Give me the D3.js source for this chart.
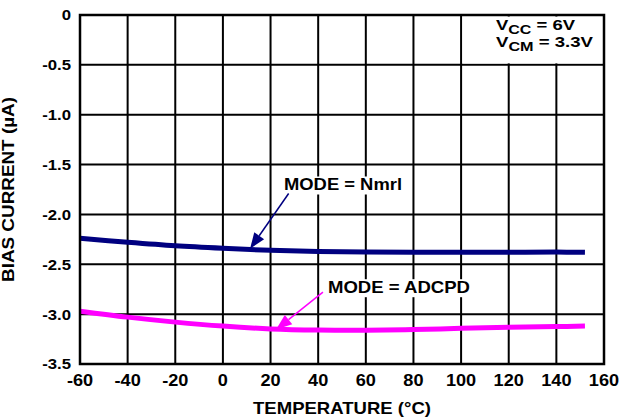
<!DOCTYPE html>
<html><head><meta charset="utf-8">
<script src="https://cdn.jsdelivr.net/npm/d3@7"></script>
<style>
html,body{margin:0;padding:0;background:#fff;}
text{font-family:"Liberation Sans",Arial,sans-serif;font-weight:bold;fill:#000;}
</style></head>
<body>
<script>
const temps = [-60,-40,-20,0,20,40,60,80,100,120,140,152];
const nmrl  = [-2.24,-2.28,-2.315,-2.34,-2.36,-2.372,-2.378,-2.38,-2.38,-2.38,-2.378,-2.38];
const adcpd = [-2.97,-3.03,-3.08,-3.12,-3.148,-3.16,-3.162,-3.155,-3.142,-3.132,-3.125,-3.12];
const xTicks = [-60,-40,-20,0,20,40,60,80,100,120,140,160];
const yTicks = [0,-0.5,-1.0,-1.5,-2.0,-2.5,-3.0,-3.5];
const yTickLabels = ["0","-0.5","-1.0","-1.5","-2.0","-2.5","-3.0","-3.5"];
const xTitle = "TEMPERATURE (°C)";
const yTitle = "BIAS CURRENT (µA)";
const labels = [
  {text:"MODE = Nmrl", x0:-60+(284-80)/524*220, v:-1.76, tipT:11.4, tipV:-2.345, fromT:27.6, fromV:-1.79, color:"#000080", tl:118},
  {text:"MODE = ADCPD", x0:-60+(328-80)/524*220, v:-2.79, tipT:22.3, tipV:-3.155, fromT:42, fromV:-2.78, color:"#ff00ff", tl:142}
];

const W=620,H=419, m={l:80,t:15,r:16,b:55};
const w=W-m.l-m.r, h=H-m.t-m.b;
const svg=d3.select("body").append("svg").attr("width",W).attr("height",H);
const x=d3.scaleLinear().domain([-60,160]).range([m.l,m.l+w]);
const y=d3.scaleLinear().domain([0,-3.5]).range([m.t,m.t+h]);

// grid
const g=svg.append("g");
g.selectAll(".vg").data(xTicks).join("line").attr("x1",d=>x(d)).attr("x2",d=>x(d))
 .attr("y1",y(0)).attr("y2",y(-3.5)).attr("stroke","#000").attr("stroke-width",2);
g.selectAll(".hg").data(yTicks).join("line").attr("y1",d=>y(d)).attr("y2",d=>y(d))
 .attr("x1",x(-60)).attr("x2",x(160)).attr("stroke","#000").attr("stroke-width",2);

// white box for conditions
svg.append("rect").attr("x",x(100)+1.5).attr("y",y(0)+1.5).attr("width",x(160)-x(100)-3).attr("height",y(-0.5)-y(0)-3).attr("fill","#fff");

// tick labels
svg.append("g").selectAll("text").data(xTicks).join("text")
 .attr("x",d=>x(d)).attr("y",386).attr("text-anchor","middle").attr("font-size",16.5)
 .attr("transform",d=>`translate(${x(d)},0) scale(1.1,1) translate(${-x(d)},0)`).text(d=>d);
svg.append("g").selectAll("text").data(yTicks).join("text")
 .attr("x",71).attr("y",d=>y(d)+5.5).attr("text-anchor","end").attr("font-size",15.5)
 .attr("transform","translate(71,0) scale(1.08,1) translate(-71,0)")
 .text((d,i)=>yTickLabels[i]);

// titles
svg.append("text").attr("x",m.l+w/2).attr("y",414).attr("text-anchor","middle").attr("font-size",16.5)
 .attr("textLength",178).attr("lengthAdjust","spacingAndGlyphs").text(xTitle);
svg.append("text").attr("transform",`translate(13.5,${m.t+h/2}) rotate(-90)`).attr("text-anchor","middle")
 .attr("font-size",16.5).attr("textLength",185).attr("lengthAdjust","spacingAndGlyphs").text(yTitle);

// conditions text
const c=svg.append("g").attr("font-size",15.5);
const t1=c.append("text").attr("x",496).attr("y",30).attr("textLength",79).attr("lengthAdjust","spacingAndGlyphs");
t1.append("tspan").text("V");
t1.append("tspan").attr("font-size",13.5).attr("dy",4).text("CC");
t1.append("tspan").attr("dy",-4).text(" = 6V");
const t2=c.append("text").attr("x",496).attr("y",47).attr("textLength",97).attr("lengthAdjust","spacingAndGlyphs");
t2.append("tspan").text("V");
t2.append("tspan").attr("font-size",13.5).attr("dy",4).text("CM");
t2.append("tspan").attr("dy",-4).text(" = 3.3V");

// lines
const line=d3.line().x((d,i)=>x(temps[i])).y(d=>y(d)).curve(d3.curveCatmullRom);
svg.append("path").attr("d",line(nmrl)).attr("fill","none").attr("stroke","#000080").attr("stroke-width",5);
svg.append("path").attr("d",line(adcpd)).attr("fill","none").attr("stroke","#ff00ff").attr("stroke-width",5);

// annotations
labels.forEach(L=>{
  const tx=x(L.x0), ty=y(L.v);
  const grp=svg.append("g");
  const bg=grp.append("rect").attr("fill","#fff");
  const t=grp.append("text").attr("x",tx).attr("y",ty).attr("font-size",17)
    .attr("textLength",L.tl).attr("lengthAdjust","spacingAndGlyphs").text(L.text);
  const bb=t.node().getBBox();
  bg.attr("x",bb.x-3).attr("y",bb.y+1).attr("width",bb.width+6).attr("height",bb.height-1);
  const x1=x(L.fromT),y1=y(L.fromV),x2=x(L.tipT),y2=y(L.tipV);
  const ang=Math.atan2(y2-y1,x2-x1), len=16, hw=6;
  const bx=x2-len*Math.cos(ang), by=y2-len*Math.sin(ang);
  svg.append("line").attr("x1",x1).attr("y1",y1).attr("x2",bx).attr("y2",by).attr("stroke",L.color).attr("stroke-width",1.5);
  const px=-Math.sin(ang),py=Math.cos(ang);
  svg.append("path").attr("d",`M${x2},${y2}L${bx+px*hw},${by+py*hw}L${bx-px*hw},${by-py*hw}Z`).attr("fill",L.color);
});

// border
svg.append("rect").attr("x",x(-60)).attr("y",y(0)).attr("width",w).attr("height",h)
 .attr("fill","none").attr("stroke","#000").attr("stroke-width",2.5);
</script>
</body></html>
